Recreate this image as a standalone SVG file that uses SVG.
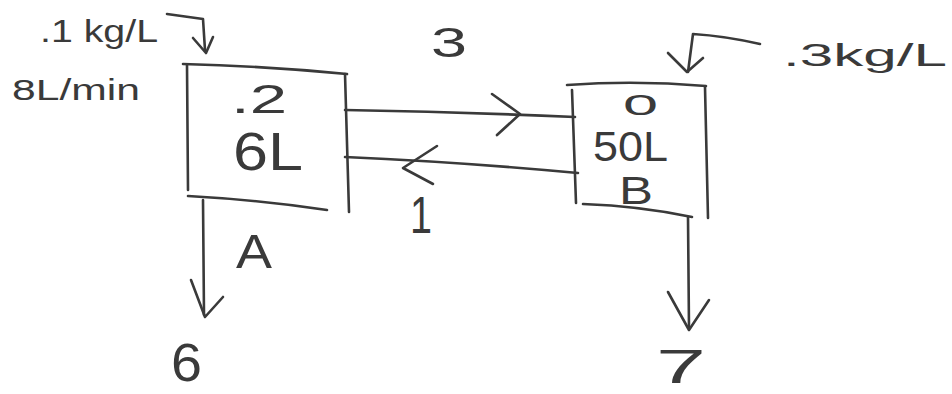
<svg xmlns="http://www.w3.org/2000/svg" width="952" height="394" viewBox="0 0 952 394">
<style>
.ln{fill:none;stroke:#3a3a3a;stroke-width:2.6;stroke-linecap:round;stroke-linejoin:round}
.hd{fill:none;stroke:#3a3a3a;stroke-width:2.6;stroke-linecap:round;stroke-linejoin:round}
.t{font-family:"Liberation Sans","DejaVu Sans",sans-serif;fill:#3a3a3a}
</style>
<rect width="952" height="394" fill="#ffffff"/>
<g id="tankA">
<path class="ln" d="M183,64 Q265,66 347,74"/>
<path class="ln" d="M187,65 L188,190"/>
<path class="ln" d="M345,74 L349,212"/>
<path class="ln" d="M188,196 Q260,200 327,210"/>
<text class="t" x="231" y="113" font-size="40" textLength="56" lengthAdjust="spacingAndGlyphs">.2</text>
<text class="t" x="233" y="170" font-size="54" textLength="70" lengthAdjust="spacingAndGlyphs">6L</text>
<text class="t" x="236" y="268" font-size="48" textLength="36" lengthAdjust="spacingAndGlyphs">A</text>
</g>
<g id="tankB">
<path class="ln" d="M567,85 Q636,80 706,86"/>
<path class="ln" d="M572,90 L576,203"/>
<path class="ln" d="M705,87 L708,218"/>
<path class="ln" d="M583,204 Q640,206 692,217"/>
<text class="t" x="623" y="115" font-size="30" textLength="35" lengthAdjust="spacingAndGlyphs">0</text>
<text class="t" x="593" y="161" font-size="42" textLength="75" lengthAdjust="spacingAndGlyphs">50L</text>
<text class="t" x="619" y="204" font-size="38" textLength="34" lengthAdjust="spacingAndGlyphs">B</text>
</g>
<g id="feedA">
<text class="t" x="40" y="42" font-size="32" textLength="118" lengthAdjust="spacingAndGlyphs">.1 kg/L</text>
<text class="t" x="12" y="100" font-size="30" textLength="128" lengthAdjust="spacingAndGlyphs">8L/min</text>
</g>
<g id="feedB">
<text class="t" x="783" y="66" font-size="32" textLength="164" lengthAdjust="spacingAndGlyphs">.3kg/L</text>
</g>
<g id="outA">
<text class="t" x="171" y="381" font-size="54" textLength="31" lengthAdjust="spacingAndGlyphs">6</text>
</g>
<g id="outB">
<text class="t" x="656" y="383" font-size="48" textLength="50" lengthAdjust="spacingAndGlyphs">7</text>
</g>
<g id="connectors">
<path class="ln" d="M167,14 L203,19 L205,50"/>
<path class="hd" d="M193,38 L206,53 L213,37"/>
<path class="ln" d="M760,44 Q725,36 693,34 L688,72"/>
<path class="hd" d="M668,53 L687,72 L703,58"/>
<path class="ln" d="M345,110 Q460,112 575,117"/>
<path class="hd" d="M492,94 L520,114 L497,135"/>
<text class="t" x="431" y="57" font-size="42" textLength="36" lengthAdjust="spacingAndGlyphs">3</text>
<path class="ln" d="M345,157 Q460,162 578,173"/>
<path class="hd" d="M437,146 L403,168 L433,184"/>
<text class="t" x="410" y="233" font-size="52" textLength="22" lengthAdjust="spacingAndGlyphs">1</text>
<path class="ln" d="M203,200 L204,315"/>
<path class="hd" d="M191,280 L205,317 L223,297"/>
<path class="ln" d="M688,217 L689,328"/>
<path class="hd" d="M668,292 L689,330 L709,300"/>
</g>
</svg>
